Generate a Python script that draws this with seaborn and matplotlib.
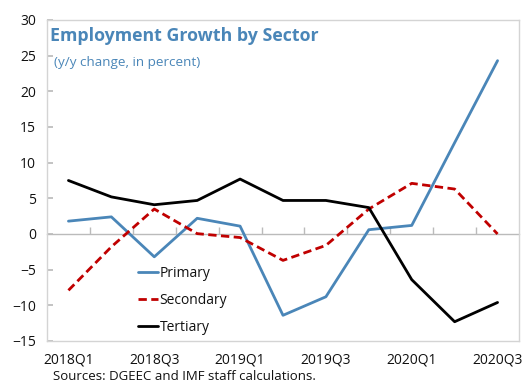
import matplotlib
matplotlib.use("Agg")
import matplotlib.pyplot as plt
import seaborn as sns
import pandas as pd

quarters = ["2018Q1", "2018Q2", "2018Q3", "2018Q4", "2019Q1", "2019Q2",
            "2019Q3", "2019Q4", "2020Q1", "2020Q2", "2020Q3"]
primary = [1.8, 2.4, -3.2, 2.2, 1.1, -11.4, -8.8, 0.6, 1.2, 12.8, 24.3]
secondary = [-7.9, -1.8, 3.5, 0.05, -0.5, -3.7, -1.6, 3.5, 7.1, 6.3, 0.0]
tertiary = [7.5, 5.2, 4.1, 4.7, 7.7, 4.7, 4.7, 3.7, -6.4, -12.3, -9.6]
sectors = ["Primary", "Secondary", "Tertiary"]

df = pd.DataFrame({
    "pos": list(range(len(quarters))) * 3,
    "value": primary + secondary + tertiary,
    "sector": [s for s in sectors for _ in quarters],
})

sns.set_theme(style="white")
plt.rcParams["font.family"] = ["Open Sans", "DejaVu Sans"]

blue = "#4a86b8"
palette = {"Primary": blue, "Secondary": "#c00000", "Tertiary": "#000000"}
dashes = {"Primary": "", "Secondary": (3, 1.6), "Tertiary": ""}

fig = plt.figure(figsize=(5.25, 3.83), dpi=100)
ax = fig.add_axes([0.0895, 0.1097, 0.8991, 0.8381])

sns.lineplot(data=df, x="pos", y="value", hue="sector", style="sector",
             palette=palette, dashes=dashes, linewidth=2.0, ax=ax,
             legend=True)

ax.set_xlim(-0.5, len(quarters) - 0.5)
ax.set_ylim(-15, 30)
ax.set_yticks(range(-15, 31, 5))
ax.set_xticks(range(len(quarters)))
ax.set_xticklabels([q if i % 2 == 0 else "" for i, q in enumerate(quarters)])
ax.set_xlabel("")
ax.set_ylabel("")

for sp in ax.spines.values():
    sp.set_color("#d4d4d4")
    sp.set_linewidth(1.0)

ax.tick_params(axis="x", length=0, pad=8, labelsize=10, colors="#111111")
ax.tick_params(axis="y", direction="in", length=4, color="#bbbbbb",
               labelsize=10, labelcolor="#111111", pad=8)
ax.tick_params(axis="y", which="both", left=True)

# zero line with category separators
sec = ax.secondary_xaxis(15 / 45)
sec.set_xticks([i + 0.5 for i in range(len(quarters) - 1)])
sec.set_xticklabels([])
sec.tick_params(direction="in", length=5, color="#bbbbbb", width=1.0)
sec.spines["bottom"].set_color("#bbbbbb")
sec.spines["bottom"].set_linewidth(1.0)

leg = ax.legend(loc="upper left", bbox_to_anchor=(0.18, 0.25), frameon=False,
                handlelength=1.5, handletextpad=0.1, labelspacing=0.85,
                fontsize=10, borderaxespad=0)
for t in leg.get_texts():
    t.set_color("#111111")

fig.text(0.095, 0.905, "Employment Growth by Sector", fontsize=12.8,
         fontweight="bold", color=blue, va="center", ha="left")
fig.text(0.103, 0.838, "(y/y change, in percent)", fontsize=9.7,
         color=blue, va="center", ha="left")
fig.text(0.101, 0.0, "Sources: DGEEC and IMF staff calculations.",
         fontsize=9.5, color="#111111", va="bottom", ha="left")

fig.savefig("out.png", dpi=100)
